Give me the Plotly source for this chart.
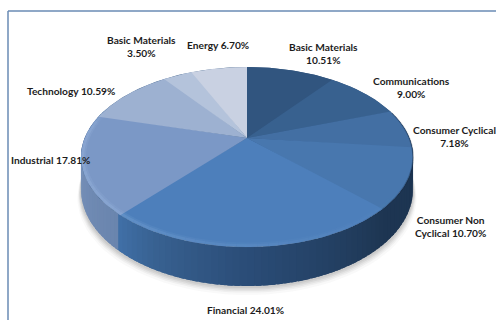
import numpy as np
import plotly.graph_objects as go

# Sector weights, listed clockwise from twelve o'clock
CATEGORIES = ["Basic Materials", "Communications", "Consumer Cyclical", "Consumer Non Cyclical",
              "Financial", "Industrial", "Technology", "Basic Materials", "Energy"]
SHARES = [10.51, 9.00, 7.18, 10.70, 24.01, 17.81, 10.59, 3.50, 6.70]

# Styling and label placement
TOP_COLORS = ["#31557f", "#38618f", "#436fa3", "#4877ae", "#4d7fbb",
              "#7b98c6", "#9db1d1", "#b4c3db", "#c9d1e2"]
LABEL_BREAK = [True, True, True, False, False, False, False, True, False]
LABEL_X = [323, 411, 454, 450, 245, 50, 71, 141, 218]
LABEL_Y = [53, 87, 136, 226, 310, 160, 91, 46, 45]

# Disc geometry on a 496x320 canvas: a tilted circle under mild perspective
CX, CY = 247, 138
RX, RY, PERSP = 162.3, 86.0, 0.2112
DEPTH = 30.8


def project(theta_deg, z=0.0, scale=1.0):
    t = np.radians(theta_deg)
    u, v = scale * np.sin(t), -scale * np.cos(t)
    d = 1 - PERSP * v
    return CX + RX * u / d, CY + (RY * v + z * DEPTH) / d


def lerp_color(stops, t):
    keys = [s[0] for s in stops]
    chans = [np.interp(t, keys, [int(s[1][i:i + 2], 16) for s in stops]) for i in (1, 3, 5)]
    return "rgb(%d,%d,%d)" % tuple(chans)


def polygon(x, y, color, name=None):
    return go.Scatter(x=list(x), y=list(y), mode="lines", fill="toself", fillcolor=color,
                      line=dict(color=color, width=0), hoverinfo="skip", showlegend=False, name=name)


# Cumulative slice boundaries in degrees
edges = np.concatenate([[0], np.cumsum(SHARES)]) / sum(SHARES) * 360

SIDE_MAIN = [(70, "#1b3350"), (135, "#1e3653"), (180, "#2b4d78"), (205, "#37608f"), (222, "#4170a8")]
SIDE_LIGHT = [(edges[5], "#6a85ae"), (edges[6], "#7e98c0")]

fig = go.Figure()

# Soft ground shadow beneath the disc
ring = np.arange(60, 301, 3.0)
for grow, alpha in [(12, 0.03), (9, 0.05), (7, 0.06), (5, 0.07), (3, 0.08)]:
    sx, sy = project(ring, z=1.0)
    fig.add_trace(polygon(sx + np.sin(np.radians(ring)) * grow * 0.3, sy + grow * 0.75,
                          f"rgba(60,60,60,{alpha})"))

# Outer wall, painted in overlapping strips so it shades across the front;
# each strip is overpainted by its successor, leaving no seams
step = 2.0
for a in np.arange(70, 290, step):
    b = a + step + 1.5
    mid = a + step / 2
    if edges[5] <= mid < edges[6]:
        color = lerp_color(SIDE_LIGHT, mid)
    else:
        color = lerp_color(SIDE_MAIN, min(mid, 222))
    xt, yt = project(np.array([a, b]))
    xb, yb = project(np.array([b, a]), z=1.0)
    fig.add_trace(polygon(np.r_[xt, xb, xt[0]], np.r_[yt, yb, yt[0]], color))

# Top face: a base disc, then one wedge per sector; every wedge runs a little
# under the one drawn after it so no light hairlines appear along the spokes
disc_x, disc_y = project(np.linspace(0, 360, 240))
fig.add_trace(polygon(disc_x, disc_y, TOP_COLORS[0]))
for i, name in enumerate(CATEGORIES):
    end = edges[i + 1] + (0.8 if i < len(CATEGORIES) - 1 else 0.0)
    arc = np.linspace(edges[i], end, 60)
    ax, ay = project(arc)
    fig.add_trace(polygon(np.r_[CX, ax, CX], np.r_[CY, ay, CY], TOP_COLORS[i], name=name))

# Bevel highlight running round the front and left of the rim
rim_step = 3.0
for a in np.arange(120, 290, rim_step):
    arc = np.array([a, a + rim_step])
    strength = np.interp(a, [120, 190, 225, 275, 290], [0.0, 0.13, 0.22, 0.24, 0.0])
    for scale, width, k in [(0.985, 5.0, 0.35), (0.99, 3.0, 0.55)]:
        rx, ry = project(arc, scale=scale)
        fig.add_trace(go.Scatter(x=rx, y=ry, mode="lines", hoverinfo="skip", showlegend=False,
                                 line=dict(color=f"rgba(190,220,255,{strength * k:.3f})", width=width)))

# Dark lip where the top face turns into the wall on the right
for a in np.arange(72, 150, rim_step):
    arc = np.array([a, a + rim_step])
    rx, ry = project(arc)
    strength = np.interp(a, [72, 100, 150], [0.15, 0.4, 0.0])
    fig.add_trace(go.Scatter(x=rx, y=ry, mode="lines", hoverinfo="skip", showlegend=False,
                             line=dict(color=f"rgba(15,30,50,{strength:.3f})", width=1.5)))

# Sector labels, with the text built from the weights
for i, (cat, val) in enumerate(zip(CATEGORIES, SHARES)):
    if cat == "Consumer Non Cyclical":
        text = f"Consumer Non<br>Cyclical {val:.2f}%"
    else:
        text = f"{cat}{'<br>' if LABEL_BREAK[i] else ' '}{val:.2f}%"
    fig.add_annotation(x=LABEL_X[i], y=LABEL_Y[i], text=text, showarrow=False,
                       font=dict(family="Lato", size=10.2, color="#1c1c1c", weight="bold"),
                       align="center", xanchor="center", yanchor="middle")

# Chart frame along the top and left
fig.add_shape(type="line", x0=8, x1=8, y0=11, y1=320, line=dict(color="#6a8bb5", width=1.5))
fig.add_shape(type="line", x0=8, x1=496, y0=11, y1=11, line=dict(color="#6a8bb5", width=1.5))

fig.update_layout(
    width=496, height=320, margin=dict(l=0, r=0, t=0, b=0),
    paper_bgcolor="white", plot_bgcolor="white", showlegend=False,
    xaxis=dict(range=[0, 496], visible=False, fixedrange=True),
    yaxis=dict(range=[320, 0], visible=False, fixedrange=True),
)
fig.write_html("out.html", config={"displayModeBar": False})
